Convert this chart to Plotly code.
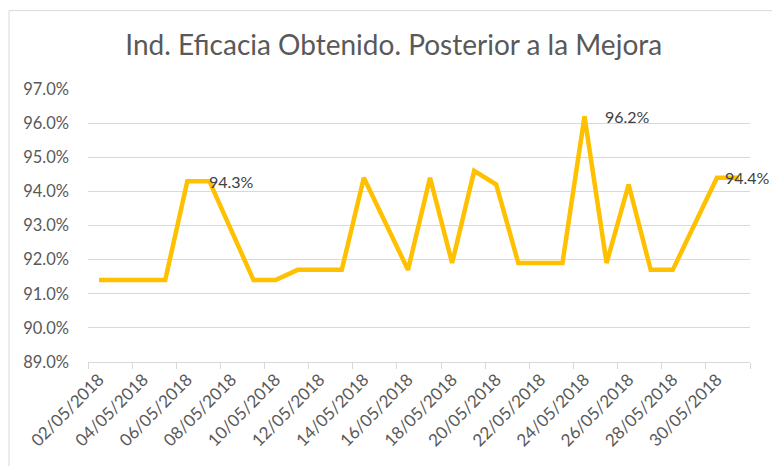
import plotly.graph_objects as go

dates = ["02/05/2018", "03/05/2018", "04/05/2018", "05/05/2018", "06/05/2018",
         "07/05/2018", "08/05/2018", "09/05/2018", "10/05/2018", "11/05/2018",
         "12/05/2018", "13/05/2018", "14/05/2018", "15/05/2018", "16/05/2018",
         "17/05/2018", "18/05/2018", "19/05/2018", "20/05/2018", "21/05/2018",
         "22/05/2018", "23/05/2018", "24/05/2018", "25/05/2018", "26/05/2018",
         "27/05/2018", "28/05/2018", "29/05/2018", "30/05/2018", "31/05/2018"]

eficacia = [0.914, 0.914, 0.914, 0.914, 0.943, 0.943, None, 0.914, 0.914, 0.917,
            0.917, 0.917, 0.944, None, 0.917, 0.944, 0.919, 0.946, 0.942, 0.919,
            0.919, 0.919, 0.962, 0.919, 0.942, 0.917, 0.917, None, 0.944, 0.944]

labelled = [(4, 20), (22, 18), (28, 6)]

title_text = "Ind. Eficacia Obtenido. Posterior a la Mejora"
FONT = "Lato"

fig = go.Figure()
fig.add_trace(go.Scatter(
    x=dates, y=eficacia, mode="lines", connectgaps=True,
    line=dict(color="#FFC000", width=4.5), hoverinfo="x+y",
))

for idx, shift in labelled:
    fig.add_annotation(
        x=dates[idx], y=eficacia[idx], text=f"{eficacia[idx]*100:.1f}%",
        showarrow=False, xanchor="left", yanchor="middle", xshift=shift,
        font=dict(family=FONT, size=16, color="#404040"),
    )

fig.update_layout(
    width=772, height=466,
    margin=dict(l=88, r=22, t=89, b=104),
    paper_bgcolor="white", plot_bgcolor="white",
    showlegend=False,
    title=dict(text=title_text, x=0.51, xref="container", xanchor="center",
               y=1 - 45 / 466, yref="container", yanchor="middle",
               font=dict(family=FONT, size=28, color="#595959")),
    font=dict(family=FONT, size=16, color="#595959"),
    xaxis=dict(type="category", range=[-0.5, 29.5], dtick=2, tickson="boundaries",
               tickangle=-45, showgrid=False, showline=True, linecolor="#d9d9d9",
               linewidth=1, ticks="outside", ticklen=6, tickcolor="#d9d9d9",
               automargin=False,
               tickfont=dict(family=FONT, size=17, color="#595959")),
    yaxis=dict(range=[0.89, 0.97], dtick=0.01, tickformat=".1%",
               showgrid=True, gridcolor="#d9d9d9", gridwidth=1,
               zeroline=False, showline=False, ticks="",
               ticklabelstandoff=18, automargin=False,
               tickfont=dict(family=FONT, size=16.5, color="#595959")),
    shapes=[dict(type="rect", xref="paper", yref="paper",
                 x0=(9 - 88) / 662, x1=(780 - 88) / 662,
                 y0=(362 - 480) / 272.7, y1=(362 - 11) / 272.7,
                 line=dict(color="#d9d9d9", width=1), fillcolor="rgba(0,0,0,0)",
                 layer="below")],
)

fig.write_html("out.html",
               config={"displayModeBar": False},
               post_script="document.body.style.margin='0';document.body.style.overflow='hidden';")
